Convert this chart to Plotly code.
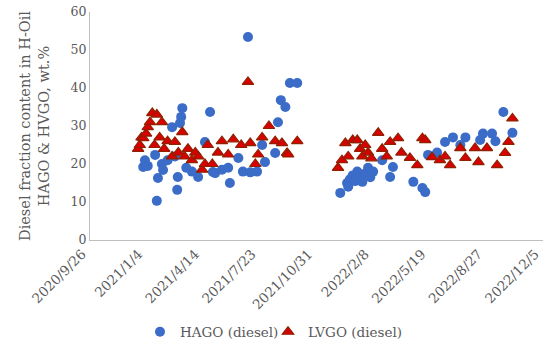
import plotly.graph_objects as go

hago_dates = [
    "2020-12-29", "2021-01-01", "2021-01-06", "2021-01-19", "2021-01-22", "2021-01-24",
    "2021-01-31", "2021-02-02", "2021-02-10", "2021-02-18", "2021-02-23", "2021-02-27",
    "2021-02-28", "2021-03-04", "2021-03-06", "2021-03-08", "2021-03-15", "2021-03-25",
    "2021-04-05", "2021-04-17", "2021-04-26", "2021-05-01", "2021-05-05", "2021-05-17",
    "2021-05-28", "2021-05-31", "2021-06-15", "2021-06-23", "2021-07-02", "2021-07-06",
    "2021-07-18", "2021-07-27", "2021-08-01", "2021-08-19", "2021-08-24", "2021-08-29",
    "2021-09-06", "2021-09-14", "2021-09-27",
    "2021-12-12", "2021-12-24", "2021-12-26", "2021-12-29", "2022-01-03", "2022-01-07",
    "2022-01-11", "2022-01-16", "2022-01-20", "2022-01-25", "2022-01-30", "2022-02-03",
    "2022-02-08", "2022-02-24", "2022-03-10", "2022-03-15", "2022-04-20", "2022-05-06",
    "2022-05-11", "2022-05-16", "2022-06-01", "2022-06-15", "2022-06-29", "2022-07-12",
    "2022-07-21", "2022-08-16", "2022-08-21", "2022-09-06", "2022-09-12", "2022-09-26",
    "2022-10-12",
]
hago_values = [
    19.2, 21.0, 19.5, 22.4, 10.3, 16.3,
    20.0, 18.4, 21.0, 29.7, 22.0, 13.2,
    16.6, 30.8, 32.4, 34.7, 19.0, 18.0,
    16.6, 25.8, 33.7, 17.9, 17.6, 18.5,
    19.0, 15.0, 21.6, 18.0, 53.4, 17.8,
    18.0, 25.0, 20.5, 22.9, 31.0, 36.8,
    35.0, 41.3, 41.3,
    12.4, 15.0, 14.0, 16.0, 17.0, 15.5,
    18.0, 16.5, 15.3, 17.5, 19.0, 16.5,
    18.0, 21.0, 16.6, 19.2, 15.3, 13.7,
    12.6, 22.4, 23.0, 25.8, 27.0, 25.0,
    27.0, 26.3, 28.0, 28.0, 26.0, 33.7,
    28.2,
]

lvgo_dates = [
    "2020-12-20", "2020-12-23", "2020-12-26", "2020-12-29", "2021-01-03", "2021-01-06",
    "2021-01-10", "2021-01-14", "2021-01-18", "2021-01-22", "2021-01-27", "2021-01-31",
    "2021-02-04", "2021-02-10", "2021-02-18", "2021-02-23", "2021-03-01", "2021-03-08",
    "2021-03-12", "2021-03-18", "2021-03-25", "2021-03-31", "2021-04-05", "2021-04-12",
    "2021-04-17", "2021-04-22", "2021-04-30", "2021-05-10", "2021-05-17", "2021-05-28",
    "2021-06-06", "2021-06-20", "2021-07-02", "2021-07-06", "2021-07-15", "2021-07-20",
    "2021-07-27", "2021-08-08", "2021-08-19", "2021-08-31", "2021-09-09", "2021-09-11",
    "2021-09-27",
    "2021-12-08", "2021-12-15", "2021-12-21", "2021-12-26", "2022-01-03", "2022-01-11",
    "2022-01-16", "2022-01-20", "2022-01-25", "2022-01-30", "2022-02-05", "2022-02-17",
    "2022-02-24", "2022-03-04", "2022-03-10", "2022-03-24", "2022-03-30", "2022-04-14",
    "2022-04-27", "2022-05-06", "2022-05-11", "2022-05-23", "2022-06-06", "2022-06-15",
    "2022-06-24", "2022-07-12", "2022-07-21", "2022-08-07", "2022-08-13", "2022-08-28",
    "2022-09-15", "2022-09-29", "2022-10-05", "2022-10-12",
]
lvgo_values = [
    24.0, 25.0, 27.0, 26.8, 28.0, 29.7,
    31.0, 33.4, 25.0, 33.0, 27.0, 31.0,
    24.0, 26.0, 22.0, 25.8, 23.0, 28.4,
    22.0, 24.0, 21.0, 23.0, 22.0, 18.5,
    20.0, 25.0, 20.0, 23.0, 26.0, 22.5,
    26.5, 25.0, 41.6, 25.5, 20.0, 22.5,
    27.0, 30.0, 26.0, 25.5, 22.9, 22.5,
    26.0,
    19.0, 21.0, 25.5, 22.0, 26.3, 26.3,
    24.0, 22.0, 25.0, 23.0, 21.5, 28.2,
    24.0, 22.0, 25.8, 26.8, 23.0, 21.6,
    19.7, 26.8, 26.3, 21.8, 21.0, 22.0,
    19.7, 24.2, 21.6, 24.2, 20.5, 24.2,
    19.7, 22.9, 25.8, 32.0,
]

tick_dates = ["2020-09-26", "2021-01-04", "2021-04-14", "2021-07-23", "2021-10-31",
              "2022-02-08", "2022-05-19", "2022-08-27", "2022-12-05"]
tick_labels = ["2020/9/26", "2021/1/4", "2021/4/14", "2021/7/23", "2021/10/31",
               "2022/2/8", "2022/5/19", "2022/8/27", "2022/12/5"]
y_ticks = [0, 10, 20, 30, 40, 50, 60]

font_family = "DejaVu Serif, Liberation Serif, serif"
gray = "#595959"
W, H = 550, 349

fig = go.Figure()
fig.add_trace(go.Scatter(
    x=hago_dates, y=hago_values, mode="markers", name="HAGO (diesel)",
    marker=dict(symbol="circle", size=10, color="#3A6CC8", line=dict(width=0)),
    legend="legend",
))
fig.add_trace(go.Scatter(
    x=lvgo_dates, y=lvgo_values, mode="markers", name="LVGO (diesel)",
    marker=dict(symbol="triangle-up", size=10, color="#D80000",
                line=dict(width=1.2, color="#8E2200")),
    legend="legend2",
))

legend_common = dict(orientation="h", xref="container", yref="container",
                     xanchor="left", y=1 - 332 / H, yanchor="middle",
                     font=dict(size=13.5, color=gray), itemsizing="trace",
                     bgcolor="rgba(0,0,0,0)")

fig.update_layout(
    width=W, height=H,
    margin=dict(l=90, r=7, t=12, b=109, autoexpand=False),
    paper_bgcolor="white", plot_bgcolor="white",
    font=dict(family=font_family, color=gray, size=13),
    showlegend=True,
    legend=dict(x=140 / W, **legend_common),
    legend2=dict(x=268 / W, **legend_common),
    xaxis=dict(
        type="date", range=["2020-09-26", "2022-12-05"],
        tickmode="array", tickvals=tick_dates, ticktext=tick_labels,
        tickangle=-45, showgrid=False, zeroline=False, automargin=False,
        showline=True, linecolor="#BFBFBF", linewidth=1, ticklabeloverflow="allow",
        ticks="", tickfont=dict(size=13.5, color=gray), ticklabelshift=-8,
    ),
    yaxis=dict(
        range=[0, 60], tickmode="array", tickvals=y_ticks,
        showgrid=False, zeroline=False, automargin=False,
        showline=True, linecolor="#BFBFBF", linewidth=1, ticklabeloverflow="allow",
        ticks="", tickfont=dict(size=12.5, color=gray),
        title=dict(text="Diesel fraction content in H-Oil<br>HAGO & HVGO, wt.%",
                   font=dict(size=14.5, color=gray), standoff=17),
    ),
)

# Remove the browser's default page margin so the figure sits at the window origin.
fig.write_html("out.html", config={"displayModeBar": False},
               post_script="document.body.style.margin='0';")
